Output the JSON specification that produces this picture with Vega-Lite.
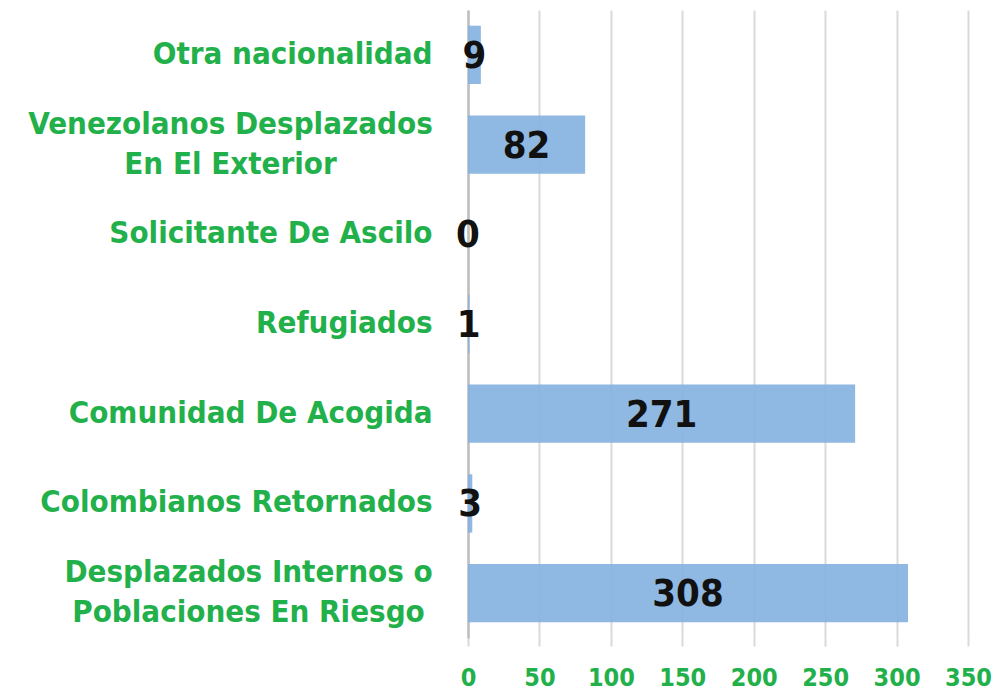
{
  "$schema": "https://vega.github.io/schema/vega-lite/v6.json",
  "width": 500,
  "height": 628,
  "padding": {"left": 468, "top": 10, "right": 27, "bottom": 55},
  "autosize": {"type": "none"},
  "background": "white",
  "config": {"view": {"stroke": null}, "font": "DejaVu Sans Condensed"},
  "data": {
    "values": [
      {"categoria": "Otra nacionalidad", "valor": 9},
      {"categoria": "Venezolanos Desplazados En El Exterior", "valor": 82},
      {"categoria": "Solicitante De Ascilo", "valor": 0},
      {"categoria": "Refugiados", "valor": 1},
      {"categoria": "Comunidad De Acogida", "valor": 271},
      {"categoria": "Colombianos Retornados", "valor": 3},
      {"categoria": "Desplazados Internos o Poblaciones En Riesgo", "valor": 308}
    ]
  },
  "encoding": {
    "y": {
      "field": "categoria",
      "type": "nominal",
      "sort": null,
      "scale": {"paddingInner": 0.35, "paddingOuter": 0.175},
      "axis": {
        "title": null,
        "ticks": false,
        "domain": true,
        "domainColor": "#bfbfbf",
        "domainWidth": 2.5,
        "labelFont": "DejaVu Sans Condensed",
        "labelFontWeight": "bold",
        "labelFontSize": 31,
        "labelColor": "#22b04b",
        "labelLimit": 0,
        "labelLineHeight": 40,
        "labelAlign": {"condition": {"test": "indexof(datum.label,'Venezolanos')>=0 || indexof(datum.label,'Internos')>=0", "value": "center"}, "value": "right"},
        "labelPadding": {"condition": [
          {"test": "indexof(datum.label,'Venezolanos')>=0", "value": 238},
          {"test": "indexof(datum.label,'Internos')>=0", "value": 220}
        ], "value": 36},
        "labelOffset": {"condition": {"test": "indexof(datum.label,'Venezolanos')>=0 || indexof(datum.label,'Internos')>=0", "value": -20}, "value": 0},
        "labelExpr": "datum.label == 'Venezolanos Desplazados En El Exterior' ? ['Venezolanos Desplazados','En El Exterior'] : datum.label == 'Desplazados Internos o Poblaciones En Riesgo' ? ['Desplazados Internos o','Poblaciones En Riesgo'] : datum.label"
      }
    }
  },
  "layer": [
    {
      "mark": {"type": "bar", "color": "#86b2e0", "opacity": 0.92},
      "encoding": {
        "x": {
          "field": "valor",
          "type": "quantitative",
          "scale": {"domain": [0, 350]},
          "axis": {
            "title": null,
            "values": [0, 50, 100, 150, 200, 250, 300, 350],
            "domain": false,
            "grid": true,
            "gridColor": "#d9d9d9",
            "gridWidth": 2,
            "ticks": true,
            "tickSize": 8,
            "tickColor": "#d9d9d9",
            "tickWidth": 2,
            "labelFont": "DejaVu Sans Condensed",
            "labelFontWeight": "bold",
            "labelFontSize": 25,
            "labelColor": "#22b04b",
            "labelPadding": 19,
            "labelFlush": false
          }
        }
      }
    },
    {
      "mark": {"type": "text", "font": "DejaVu Sans Condensed", "fontWeight": "bold", "fontSize": 38, "color": "#111111", "align": "center", "baseline": "middle", "dy": 2},
      "encoding": {
        "x": {"field": "mid", "type": "quantitative"},
        "text": {"field": "valor", "type": "quantitative"}
      },
      "transform": [{"calculate": "datum.valor / 2", "as": "mid"}]
    }
  ]
}
